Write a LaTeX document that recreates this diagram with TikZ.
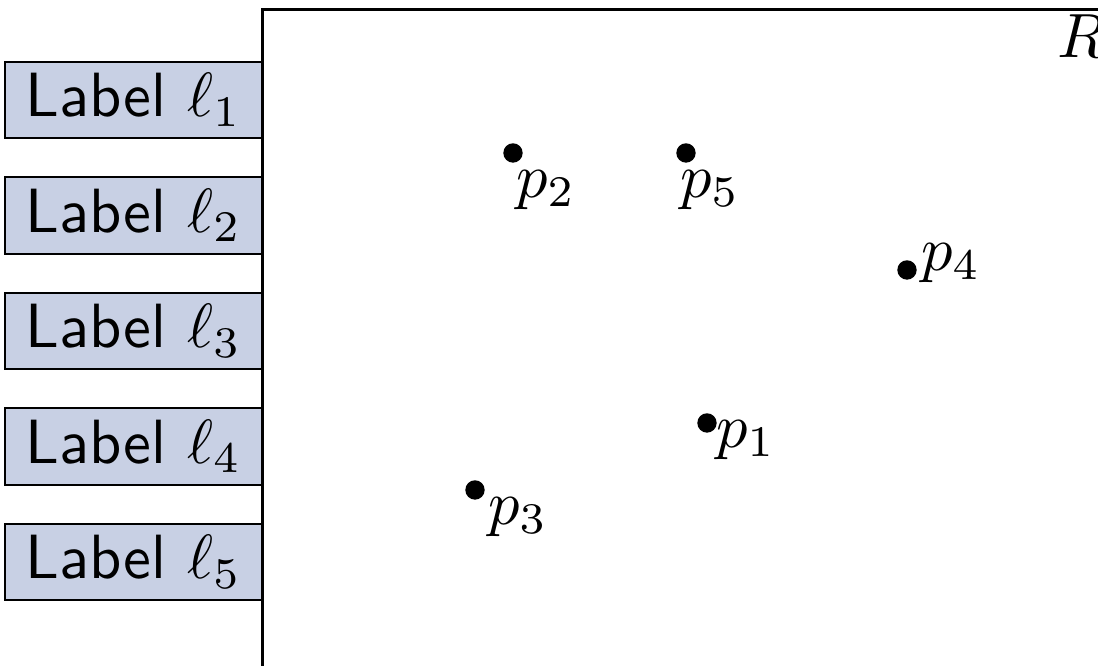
\documentclass[tikz,border=0pt]{standalone}
\usepackage{amsmath}
\usetikzlibrary{positioning}

\definecolor{labelfill}{RGB}{200,208,228}

\tikzset{
  labelbox/.style={draw, line width=0.32pt, fill=labelfill, font=\sffamily,
    minimum width=41.1pt, minimum height=12.2pt, inner sep=0pt, anchor=east},
  site/.style={circle, fill=black, inner sep=0pt, minimum size=3.1pt},
}

\begin{document}
\begin{tikzpicture}[x=0.16pt, y=-0.16pt]
  \useasboundingbox (0,0) rectangle (1098,666);

  % the region R
  \draw[line width=0.48pt] (263,700) -- (263,10) -- (1120,10);
  \node[anchor=west, inner sep=0pt] (rname) at (1056,36) {$R$};

  % labels stacked on the left boundary
  \node[labelbox] (l1) at (263,100) {Label $\ell_1$};
  \node[labelbox] (l2) at (263,215.5) {Label $\ell_2$};
  \node[labelbox] (l3) at (263,331) {Label $\ell_3$};
  \node[labelbox] (l4) at (263,446.5) {Label $\ell_4$};
  \node[labelbox] (l5) at (263,562) {Label $\ell_5$};

  % sites
  \node[site] (p1) at (707,423) {};
  \node[site] (p2) at (513,153) {};
  \node[site] (p3) at (475,490) {};
  \node[site] (p4) at (907,270) {};
  \node[site] (p5) at (686,153) {};

  \node (n1) at (746,440) {$p_1$};
  \node (n2) at (546,190) {$p_2$};
  \node (n3) at (518,517) {$p_3$};
  \node (n4) at (951,263) {$p_4$};
  \node (n5) at (710,190) {$p_5$};
\end{tikzpicture}
\end{document}
